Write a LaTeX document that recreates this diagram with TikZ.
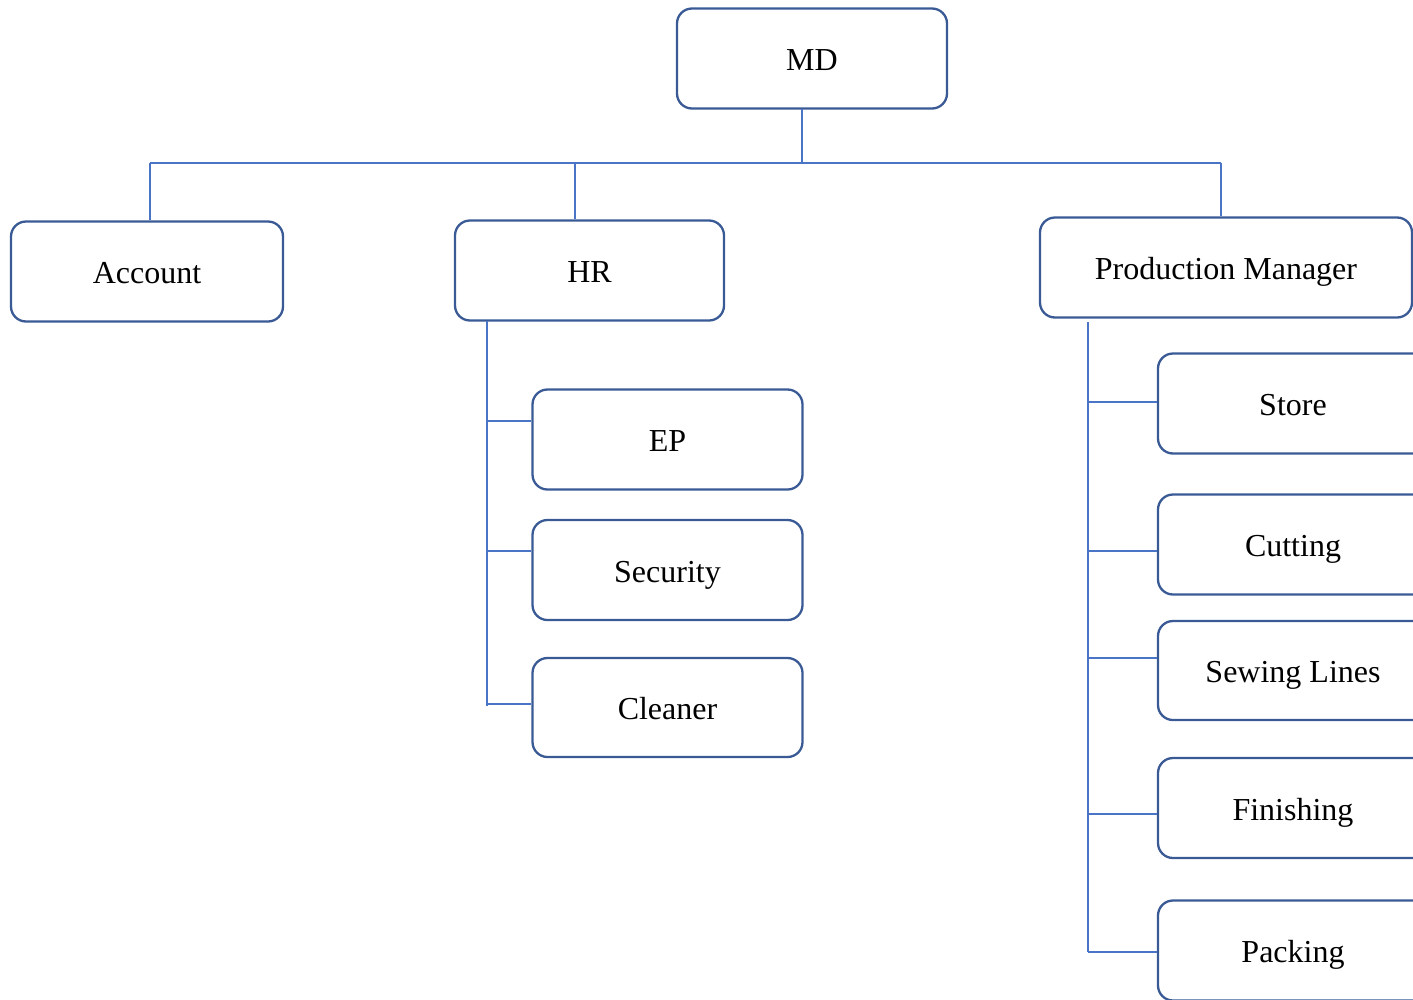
\documentclass[tikz,border=0pt]{standalone}
\usepackage{fontspec}
\setmainfont{Liberation Serif}
\definecolor{boxblue}{HTML}{3A5A95}
\definecolor{lineblue}{HTML}{4A74C6}
\begin{document}
\begin{tikzpicture}[x=1pt,y=-1pt,
  box/.style={draw=boxblue,line width=2.3pt,rounded corners=15pt,fill=white,
    minimum width=270pt,minimum height=100pt,inner sep=0pt,
    text height=28pt,text depth=4pt,
    font=\fontsize{32}{36}\selectfont,text=black},
  conn/.style={draw=lineblue,line width=1.1pt}]
\useasboundingbox (0,0) rectangle (1413,999);
\clip (0,0) rectangle (1413,999);
% boxes
\node[box] (md) at (812,58.5) {MD};
\node[box,minimum width=272pt] (acc) at (147,271.5) {Account};
\node[box,minimum width=269pt] (hr) at (589.5,270.5) {HR};
\node[box,minimum width=372pt] (pm) at (1226,267.5) {Production Manager};
\node[box] (ep) at (667.5,439.5) {EP};
\node[box] (sec) at (667.5,570) {Security};
\node[box,minimum height=99pt] (cln) at (667.5,707.5) {Cleaner};
\node[box] (sto) at (1293,403.5) {Store};
\node[box] (cut) at (1293,544.5) {Cutting};
\node[box,minimum height=99pt] (sew) at (1293,670.5) {Sewing Lines};
\node[box] (fin) at (1293,808) {Finishing};
\node[box] (pack) at (1293,950.5) {Packing};
% connector coordinates
\coordinate (mdb) at (802,109);
\coordinate (bus) at (802,163);
\coordinate (busL) at (150,163);
\coordinate (busH) at (575,163);
\coordinate (busR) at (1221,163);
\coordinate (hrT) at (487,321);
\coordinate (hrE) at (487,706);
\coordinate (pmT) at (1088,322);
\coordinate (pmE) at (1088,952);
\draw[conn] (mdb) -- (bus);
\draw[conn] (busL) -- (busR);
\draw[conn] (busL) -- (busL |- acc.north);
\draw[conn] (busH) -- (busH |- hr.north);
\draw[conn] (busR) -- (busR |- pm.north);
\draw[conn] (hrT) -- (hrE);
\draw[conn] (487,421) -- (ep.west |- 0,421);
\draw[conn] (487,551) -- (sec.west |- 0,551);
\draw[conn] (487,704) -- (cln.west |- 0,704);
\draw[conn] (pmT) -- (pmE);
\draw[conn] (1088,402) -- (sto.west |- 0,402);
\draw[conn] (1088,551) -- (cut.west |- 0,551);
\draw[conn] (1088,658) -- (sew.west |- 0,658);
\draw[conn] (1088,814) -- (fin.west |- 0,814);
\draw[conn] (pmE) -- (pack.west |- pmE);
\end{tikzpicture}
\end{document}
